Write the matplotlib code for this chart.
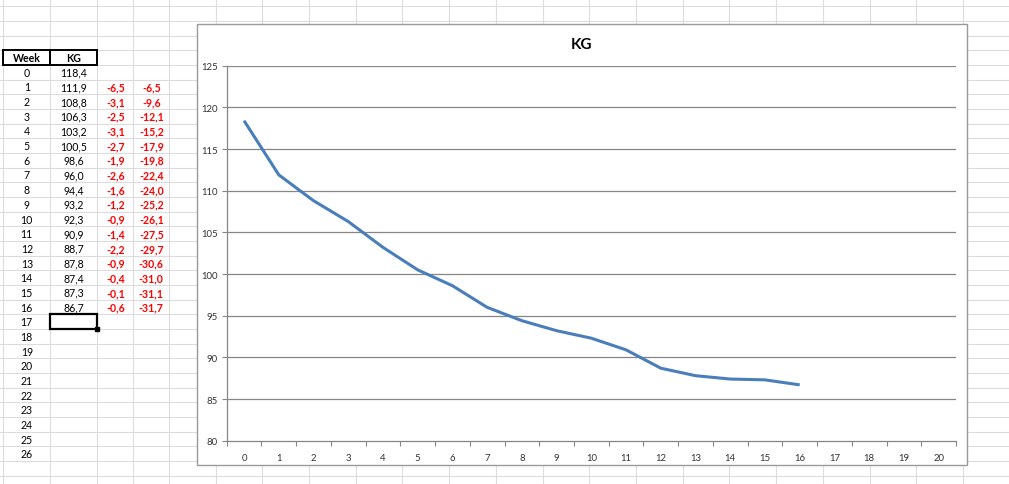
import matplotlib
matplotlib.use("Agg")
import matplotlib.pyplot as plt
from matplotlib.patches import Rectangle

plt.rcParams['font.family'] = ['Lato', 'DejaVu Sans']

# ---- data ----
weeks = list(range(0, 17))
kg = [118.4, 111.9, 108.8, 106.3, 103.2, 100.5, 98.6, 96.0, 94.4, 93.2,
      92.3, 90.9, 88.7, 87.8, 87.4, 87.3, 86.7]
weekly_change = [None, -6.5, -3.1, -2.5, -3.1, -2.7, -1.9, -2.6, -1.6, -1.2,
                 -0.9, -1.4, -2.2, -0.9, -0.4, -0.1, -0.6]
total_change = [None, -6.5, -9.6, -12.1, -15.2, -17.9, -19.8, -22.4, -24.0, -25.2,
                -26.1, -27.5, -29.7, -30.6, -31.0, -31.1, -31.7]
row_labels = list(range(0, 27))
x_categories = list(range(0, 21))
y_ticks = [80, 85, 90, 95, 100, 105, 110, 115, 120, 125]
title = "KG"
headers = ["Week", "KG"]

W, H = 1009, 485
fig = plt.figure(figsize=(W / 100, H / 100), dpi=100)

# ---- spreadsheet background (pixel coordinates) ----
bg = fig.add_axes([0, 0, 1, 1])
bg.set_xlim(0, W)
bg.set_ylim(H, 0)
bg.axis('off')
grid_c = '#DCDCDC'
col_x = [3.3, 50.3, 97.3, 133.3, 169.3]
x = 215.7
while x < W + 1:
    col_x.append(x)
    x += 46.7
for cx in col_x:
    bg.plot([cx, cx], [0, H], color=grid_c, lw=0.8, zorder=1)
row_h = 14.67
y = 7.3
row_y = []
while y < H:
    row_y.append(y)
    y += row_h
for ry in row_y:
    bg.plot([0, W], [ry, ry], color=grid_c, lw=0.8, zorder=1)

fs = 7.6
top0 = 51.3
# headers
for i, h in enumerate(headers):
    x0, x1 = col_x[i], col_x[i + 1]
    bg.add_patch(Rectangle((x0, top0), x1 - x0, row_h, fill=False,
                           edgecolor='black', lw=1.4, zorder=3))
    bg.text((x0 + x1) / 2, top0 + row_h / 2, h, ha='center', va='center',
            fontsize=fs, fontweight='bold', color='black', zorder=4)
# rows
for r in row_labels:
    yc = top0 + row_h * (r + 1) + row_h / 2
    bg.text((col_x[0] + col_x[1]) / 2, yc, str(r), ha='center', va='center',
            fontsize=fs, color='black', zorder=4)
for i, w in enumerate(weeks):
    yc = top0 + row_h * (w + 1) + row_h / 2
    bg.text((col_x[1] + col_x[2]) / 2, yc, f"{kg[i]:.1f}".replace('.', ','),
            ha='center', va='center', fontsize=fs, color='black', zorder=4)
    if weekly_change[i] is not None:
        bg.text((col_x[2] + col_x[3]) / 2, yc, f"{weekly_change[i]:.1f}".replace('.', ','),
                ha='center', va='center', fontsize=fs, color='#FF0000',
                fontweight='bold', zorder=4)
        bg.text((col_x[3] + col_x[4]) / 2, yc, f"{total_change[i]:.1f}".replace('.', ','),
                ha='center', va='center', fontsize=fs, color='#FF0000',
                fontweight='bold', zorder=4)
# selected cell (row 17)
sel_top = top0 + row_h * 18
bg.add_patch(Rectangle((col_x[1], sel_top), col_x[2] - col_x[1], row_h, fill=False,
                       edgecolor='black', lw=1.6, zorder=3))
bg.add_patch(Rectangle((col_x[2] - 2, sel_top + row_h - 2), 4, 4,
                       facecolor='black', edgecolor='black', zorder=4))

# chart frame
bg.add_patch(Rectangle((197, 25), 967 - 197, 466 - 25, facecolor='white',
                       edgecolor='#9A9A9A', lw=1.0, zorder=5))
bg.text(582, 45, title, ha='center', va='center', fontsize=11,
        fontweight='bold', color='black', zorder=6)

# ---- chart ----
ax_l, ax_r, ax_t, ax_b = 226.7, 956, 66.7, 441.7
ax = fig.add_axes([ax_l / W, 1 - ax_b / H, (ax_r - ax_l) / W, (ax_b - ax_t) / H])
ax.set_zorder(10)
ax.patch.set_alpha(0)
ax.plot(weeks, kg, color='#4A7EBB', lw=2.2, solid_capstyle='butt', zorder=5)
ax.set_xlim(-0.5, len(x_categories) - 0.5)
ax.set_ylim(y_ticks[0], y_ticks[-1])
ax.set_yticks(y_ticks)
ax.set_yticklabels([str(v) for v in y_ticks])
ax.set_xticks(x_categories)
ax.set_xticklabels([str(c) for c in x_categories])
ax.set_xticks([c - 0.5 for c in x_categories] + [x_categories[-1] + 0.5], minor=True)
ax.tick_params(axis='x', which='major', length=0, pad=8.5, labelsize=6.9, labelcolor='#333333')
ax.tick_params(axis='x', which='minor', length=3.5, color='#868686', width=0.8, direction='out')
ax.tick_params(axis='y', which='major', length=3.5, color='#868686', width=0.8,
               pad=3, labelsize=6.9, labelcolor='#333333')
for v in y_ticks[1:]:
    ax.axhline(v, color='#868686', lw=0.9, zorder=1)
for s in ['top', 'right']:
    ax.spines[s].set_visible(False)
for s in ['left', 'bottom']:
    ax.spines[s].set_color('#868686')
    ax.spines[s].set_linewidth(0.9)

fig.savefig('out.png', dpi=100)
